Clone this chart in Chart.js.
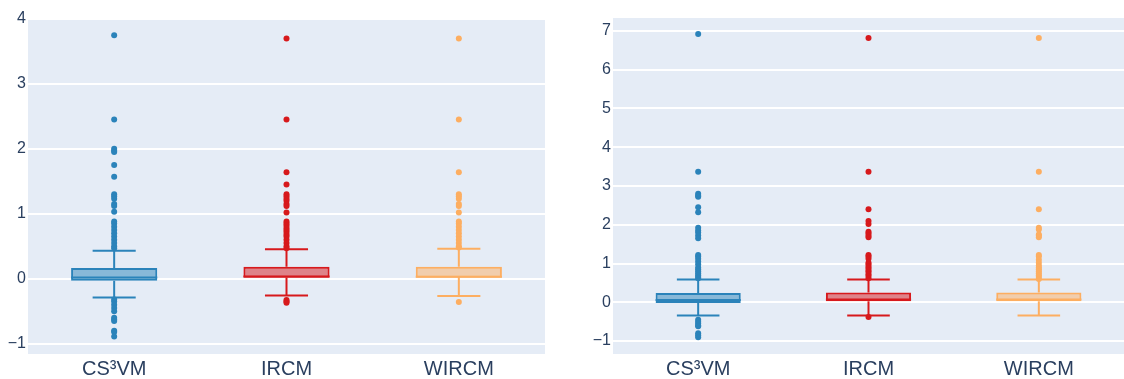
<!DOCTYPE html>
<html>
<head>
<meta charset="utf-8">
<script src="https://cdn.jsdelivr.net/npm/chart.js@4/dist/chart.umd.min.js"></script>
<style>
  body { margin: 0; background: #fff; overflow: hidden; width: 1124px; height: 379px; position: relative; }
  #left { position: absolute; left: 0; top: 0; }
  #right { position: absolute; left: 560px; top: 0; }
</style>
</head>
<body>
<canvas id="left" width="560" height="379"></canvas>
<canvas id="right" width="570" height="379"></canvas>
<script>
// Box plot data //

const categories = ["CS³VM", "IRCM", "WIRCM"];
const boxColors = ['#2b83ba', '#d7191c', '#fdae61'];
const boxFills = ['rgba(43,131,186,0.5)', 'rgba(215,25,28,0.5)', 'rgba(253,174,97,0.5)'];

// left panel
const leftQ1 = [-0.03, 0.0, 0.0];
const leftMedian = [0.02, 0.035, 0.03];
const leftQ3 = [0.165, 0.185, 0.185];
const leftLower = [-0.29, -0.26, -0.265];
const leftUpper = [0.43, 0.455, 0.46];
const leftOutCS = [3.75, 2.45, 2.0, 1.97, 1.95, 1.75, 1.57, 1.3, 1.27, 1.23, 1.15, 1.12, 1.03, 0.88, 0.85, 0.8, 0.75, 0.7, 0.65, 0.6, 0.55, 0.5, 0.47,
  -0.32, -0.35, -0.4, -0.45, -0.5, -0.6, -0.63, -0.65, -0.8, -0.82, -0.89];
const leftOutIR = [3.7, 2.45, 1.64, 1.45, 1.3, 1.27, 1.23, 1.2, 1.15, 1.12, 1.02, 0.88, 0.85, 0.82, 0.78, 0.75, 0.72, 0.68, 0.65, 0.6, 0.55, 0.5, 0.47,
  -0.33, -0.35, -0.37];
const leftOutWI = [3.7, 2.45, 1.64, 1.3, 1.27, 1.23, 1.15, 1.12, 1.02, 0.88, 0.85, 0.8, 0.75, 0.7, 0.65, 0.6, 0.55, 0.5, 0.48,
  -0.36];
const leftTicks = [-1, 0, 1, 2, 3, 4];

// right panel
const rightQ1 = [-0.02, 0.0, 0.0];
const rightMedian = [0.06, 0.07, 0.07];
const rightQ3 = [0.24, 0.255, 0.255];
const rightLower = [-0.34, -0.34, -0.34];
const rightUpper = [0.585, 0.585, 0.585];
const rightOutCS = [6.92, 3.37, 2.8, 2.75, 2.72, 2.45, 2.32, 1.92, 1.85, 1.8, 1.72, 1.65, 1.22, 1.18, 1.12, 1.05, 0.98, 0.9, 0.85, 0.8, 0.75, 0.7, 0.65, 0.62,
  -0.45, -0.5, -0.55, -0.6, -0.62, -0.8, -0.85, -0.9];
const rightOutIR = [6.82, 3.37, 2.4, 2.1, 2.02, 1.82, 1.78, 1.72, 1.68, 1.22, 1.18, 1.12, 1.02, 0.98, 0.92, 0.88, 0.82, 0.78, 0.72, 0.68, 0.62,
  -0.38];
const rightOutWI = [6.82, 3.37, 2.4, 1.92, 1.88, 1.75, 1.72, 1.68, 1.22, 1.18, 1.1, 1.02, 0.95, 0.9, 0.85, 0.8, 0.75, 0.7, 0.65, 0.6];
const rightTicks = [-1, 0, 1, 2, 3, 4, 5, 6, 7];

// plot background
const plotBg = {
  id: 'plotBg',
  beforeDraw(chart) {
    const { ctx, chartArea: a } = chart;
    ctx.save();
    ctx.fillStyle = '#e5ecf6';
    ctx.fillRect(a.left, a.top, a.right - a.left, a.bottom - a.top);
    ctx.restore();
  }
};

// whiskers + median, drawn right after the boxes
function whiskerPlugin(lower, upper, median) {
  return {
    id: 'whiskers',
    afterDatasetDraw(chart, args) {
      if (args.index !== 0) return;
      const ctx = chart.ctx;
      const y = chart.scales.y;
      const bars = args.meta.data;
      ctx.save();
      ctx.lineWidth = 2;
      bars.forEach((bar, i) => {
        const props = bar.getProps(['x', 'y', 'base', 'width'], true);
        const half = props.width / 2;
        const cap = props.width / 4;
        const top = Math.min(props.y, props.base);
        const bot = Math.max(props.y, props.base);
        const yUp = y.getPixelForValue(upper[i]);
        const yLo = y.getPixelForValue(lower[i]);
        const yMed = y.getPixelForValue(median[i]);
        ctx.strokeStyle = boxColors[i];
        ctx.beginPath();
        ctx.moveTo(props.x, top); ctx.lineTo(props.x, yUp);
        ctx.moveTo(props.x - cap, yUp); ctx.lineTo(props.x + cap, yUp);
        ctx.moveTo(props.x, bot); ctx.lineTo(props.x, yLo);
        ctx.moveTo(props.x - cap, yLo); ctx.lineTo(props.x + cap, yLo);
        ctx.moveTo(props.x - half, yMed); ctx.lineTo(props.x + half, yMed);
        ctx.stroke();
      });
      ctx.restore();
    }
  };
}

function outlierSet(cat, values, color) {
  return {
    type: 'scatter',
    data: values.map(v => ({ x: cat, y: v })),
    backgroundColor: color,
    borderWidth: 0,
    pointRadius: 3,
    order: 0
  };
}

function makeBoxChart(canvas, q1, med, q3, lower, upper, outs, ticks, yMin, yMax, axisWidth, padRight) {
  return new Chart(canvas, {
    type: 'bar',
    data: {
      labels: categories,
      datasets: [
        {
          data: q1.map((v, i) => [v, q3[i]]),
          backgroundColor: boxFills,
          borderColor: boxColors,
          borderWidth: 2,
          borderSkipped: false,
          categoryPercentage: 1,
          barPercentage: 0.5,
          order: 1
        },
        outlierSet(categories[0], outs[0], boxColors[0]),
        outlierSet(categories[1], outs[1], boxColors[1]),
        outlierSet(categories[2], outs[2], boxColors[2])
      ]
    },
    options: {
      responsive: false,
      animation: false,
      layout: { padding: { top: 18, right: padRight, bottom: 0, left: 0 } },
      scales: {
        x: {
          type: 'category',
          offset: true,
          grid: { display: false, drawTicks: false },
          border: { display: false },
          ticks: { color: '#2a3f5f', font: { family: 'Liberation Sans, Arial', size: 20 }, padding: 3 },
          afterFit(scale) { scale.height = 25; }
        },
        y: {
          min: yMin,
          max: yMax,
          grid: { color: '#ffffff', lineWidth: 2, drawTicks: false },
          border: { display: false },
          ticks: {
            color: '#2a3f5f',
            font: { family: 'Liberation Sans, Arial', size: 16 },
            padding: 2,
            callback: v => v < 0 ? '\u2212' + Math.abs(v) : String(v)
          },
          afterBuildTicks(scale) { scale.ticks = ticks.map(v => ({ value: v })); },
          afterFit(scale) { scale.width = axisWidth; }
        }
      },
      plugins: {
        legend: { display: false },
        tooltip: { enabled: false }
      }
    },
    plugins: [plotBg, whiskerPlugin(lower, upper, med)]
  });
}

let leftChart = makeBoxChart(document.querySelector('#left'),
  leftQ1, leftMedian, leftQ3, leftLower, leftUpper,
  [leftOutCS, leftOutIR, leftOutWI], leftTicks, -1.16, 4.015, 28, 15);

// canvas is a bit wider than the page so the plot runs to the right edge
let rightChart = makeBoxChart(document.querySelector('#right'),
  rightQ1, rightMedian, rightQ3, rightLower, rightUpper,
  [rightOutCS, rightOutIR, rightOutWI], rightTicks, -1.335, 7.335, 53, 6);
</script>
</body>
</html>
